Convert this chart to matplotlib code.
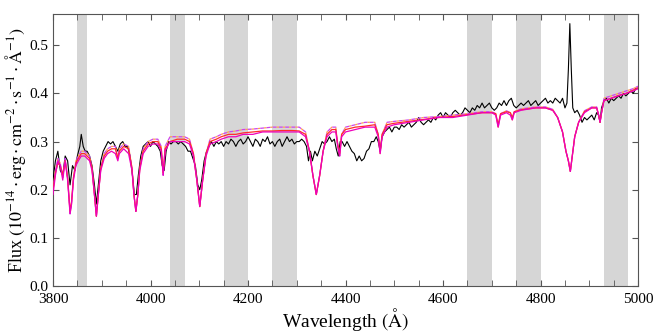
import numpy as np
import matplotlib
matplotlib.use("Agg")
import matplotlib.pyplot as plt
from matplotlib.ticker import MultipleLocator

plt.rcParams['font.family'] = ['Liberation Serif', 'DejaVu Serif']
plt.rcParams['mathtext.fontset'] = 'stix'

# Observed spectrum (black)
obs_wave = [3800, 3805, 3810, 3815, 3820, 3825, 3830, 3835, 3840, 3845, 3850, 3855, 3858, 3862, 3866,
            3870, 3875, 3880, 3885, 3889, 3893, 3898, 3903, 3908, 3913, 3918, 3923, 3928, 3933, 3938,
            3943, 3948, 3953, 3958, 3963, 3967, 3971, 3975, 3980, 3985, 3990, 3995, 4000, 4005, 4010,
            4015, 4020, 4024, 4028, 4032, 4037, 4042, 4047, 4052, 4057, 4062, 4067, 4072, 4077, 4082,
            4087, 4092, 4097, 4101, 4105, 4110, 4115, 4120, 4125, 4130, 4135, 4140, 4145, 4150, 4155,
            4160, 4165, 4170, 4175, 4180, 4185, 4190, 4195, 4200, 4205, 4210, 4215, 4220, 4225, 4230,
            4235, 4240, 4245, 4250, 4255, 4260, 4265, 4270, 4275, 4280, 4285, 4290, 4295, 4300, 4305,
            4310, 4315, 4320, 4324, 4328, 4332, 4337, 4342, 4347, 4352, 4357, 4362, 4367, 4372, 4377,
            4381, 4385, 4389, 4393, 4398, 4403, 4408, 4413, 4418, 4423, 4428, 4433, 4438, 4443, 4448,
            4453, 4458, 4463, 4467, 4471, 4475, 4480, 4485, 4490, 4495, 4500, 4505, 4510, 4515, 4520,
            4525, 4530, 4535, 4540, 4545, 4550, 4555, 4560, 4565, 4570, 4575, 4580, 4585, 4590, 4595,
            4600, 4605, 4610, 4615, 4620, 4625, 4630, 4635, 4640, 4645, 4650, 4655, 4660, 4665, 4670,
            4675, 4680, 4685, 4690, 4695, 4700, 4705, 4710, 4715, 4720, 4725, 4730, 4735, 4740, 4745,
            4750, 4755, 4760, 4765, 4770, 4775, 4780, 4785, 4790, 4795, 4800, 4805, 4810, 4815, 4820,
            4825, 4830, 4835, 4840, 4845, 4850, 4854, 4857, 4860, 4863, 4866, 4870, 4875, 4880, 4885,
            4890, 4895, 4900, 4905, 4910, 4915, 4919, 4922, 4925, 4930, 4935, 4940, 4945, 4950, 4955,
            4960, 4965, 4970, 4975, 4980, 4985, 4990, 4995, 5000]
obs_flux = [0.22, 0.26, 0.28, 0.24, 0.23, 0.27, 0.26, 0.21, 0.25, 0.24, 0.27, 0.29, 0.315, 0.29, 0.28,
            0.28, 0.27, 0.25, 0.21, 0.17, 0.21, 0.26, 0.28, 0.29, 0.30, 0.295, 0.30, 0.29, 0.28, 0.295,
            0.30, 0.29, 0.29, 0.27, 0.23, 0.19, 0.19, 0.23, 0.27, 0.29, 0.295, 0.30, 0.29, 0.30, 0.295,
            0.29, 0.28, 0.25, 0.24, 0.28, 0.30, 0.295, 0.30, 0.30, 0.295, 0.30, 0.295, 0.29, 0.28, 0.28,
            0.265, 0.25, 0.21, 0.20, 0.22, 0.26, 0.28, 0.29, 0.30, 0.29, 0.30, 0.295, 0.30, 0.29, 0.30,
            0.295, 0.305, 0.30, 0.29, 0.30, 0.305, 0.295, 0.30, 0.31, 0.30, 0.29, 0.305, 0.30, 0.29, 0.305,
            0.30, 0.31, 0.295, 0.30, 0.29, 0.30, 0.305, 0.29, 0.30, 0.31, 0.30, 0.305, 0.295, 0.30, 0.30,
            0.305, 0.30, 0.29, 0.26, 0.28, 0.26, 0.28, 0.27, 0.285, 0.30, 0.295, 0.30, 0.31, 0.30, 0.305,
            0.285, 0.27, 0.30, 0.30, 0.29, 0.30, 0.29, 0.28, 0.275, 0.26, 0.27, 0.26, 0.265, 0.28, 0.285,
            0.30, 0.30, 0.31, 0.30, 0.28, 0.31, 0.32, 0.325, 0.33, 0.32, 0.33, 0.33, 0.325, 0.335, 0.33,
            0.335, 0.34, 0.33, 0.335, 0.34, 0.35, 0.34, 0.335, 0.34, 0.345, 0.34, 0.35, 0.345, 0.355, 0.36,
            0.35, 0.36, 0.355, 0.35, 0.36, 0.365, 0.36, 0.355, 0.36, 0.37, 0.365, 0.36, 0.37, 0.365, 0.375,
            0.37, 0.38, 0.37, 0.375, 0.38, 0.37, 0.365, 0.37, 0.38, 0.375, 0.385, 0.375, 0.385, 0.39, 0.375,
            0.37, 0.375, 0.38, 0.375, 0.38, 0.385, 0.375, 0.38, 0.385, 0.375, 0.38, 0.385, 0.39, 0.38, 0.385,
            0.38, 0.39, 0.385, 0.38, 0.39, 0.37, 0.38, 0.45, 0.545, 0.45, 0.37, 0.36, 0.365, 0.355, 0.34,
            0.35, 0.345, 0.35, 0.355, 0.345, 0.36, 0.355, 0.34, 0.37, 0.385, 0.39, 0.38, 0.39, 0.385, 0.39,
            0.395, 0.39, 0.40, 0.395, 0.40, 0.405, 0.40, 0.41, 0.41]

# Model spectra
mod_wave = [3800, 3805, 3810, 3815, 3820, 3825, 3830, 3835, 3838, 3842, 3847, 3852, 3858, 3865, 3870,
            3875, 3880, 3885, 3889, 3893, 3898, 3905, 3912, 3920, 3928, 3933, 3936, 3945, 3955, 3962,
            3966, 3970, 3974, 3978, 3985, 3995, 4005, 4015, 4022, 4026, 4030, 4040, 4055, 4070, 4080,
            4088, 4095, 4101, 4107, 4114, 4122, 4135, 4145, 4160, 4175, 4190, 4210, 4230, 4250, 4270,
            4290, 4305, 4318, 4326, 4333, 4340, 4347, 4354, 4362, 4372, 4380, 4384, 4388, 4392, 4400,
            4420, 4440, 4460, 4467, 4471, 4475, 4485, 4500, 4530, 4560, 4590, 4620, 4650, 4680, 4700,
            4708, 4713, 4718, 4730, 4738, 4742, 4746, 4760, 4790, 4810, 4825, 4835, 4845, 4852, 4857,
            4861, 4865, 4870, 4878, 4890, 4905, 4915, 4919, 4922, 4925, 4930, 4945, 4960, 4975, 4990, 5000]
mod_magenta = [0.19, 0.23, 0.26, 0.25, 0.22, 0.26, 0.22, 0.15, 0.17, 0.22, 0.25, 0.26, 0.27, 0.27, 0.265,
               0.26, 0.24, 0.19, 0.145, 0.19, 0.24, 0.265, 0.275, 0.28, 0.275, 0.26, 0.275, 0.285, 0.275, 0.24,
               0.19, 0.155, 0.19, 0.24, 0.275, 0.29, 0.295, 0.295, 0.28, 0.23, 0.28, 0.30, 0.30, 0.30, 0.295,
               0.27, 0.22, 0.165, 0.22, 0.27, 0.295, 0.30, 0.305, 0.31, 0.31, 0.315, 0.315, 0.32, 0.32, 0.32,
               0.32, 0.32, 0.31, 0.28, 0.23, 0.19, 0.23, 0.28, 0.31, 0.32, 0.32, 0.29, 0.27, 0.31, 0.32,
               0.325, 0.33, 0.33, 0.31, 0.275, 0.31, 0.33, 0.335, 0.34, 0.345, 0.35, 0.35, 0.355, 0.36, 0.36,
               0.355, 0.33, 0.355, 0.36, 0.355, 0.345, 0.36, 0.365, 0.37, 0.37, 0.365, 0.35, 0.32, 0.28, 0.26,
               0.238, 0.27, 0.31, 0.34, 0.36, 0.37, 0.37, 0.355, 0.34, 0.36, 0.385, 0.39, 0.395, 0.40, 0.405, 0.41]
mod_red = [0.20, 0.235, 0.255, 0.25, 0.23, 0.26, 0.225, 0.155, 0.175, 0.225, 0.255, 0.265, 0.275, 0.275, 0.27,
           0.265, 0.245, 0.19, 0.145, 0.19, 0.245, 0.27, 0.28, 0.285, 0.285, 0.265, 0.28, 0.29, 0.285, 0.245,
           0.19, 0.155, 0.19, 0.245, 0.28, 0.295, 0.30, 0.30, 0.285, 0.235, 0.285, 0.30, 0.305, 0.305, 0.30,
           0.275, 0.22, 0.165, 0.22, 0.275, 0.30, 0.305, 0.31, 0.315, 0.315, 0.318, 0.32, 0.322, 0.322, 0.323,
           0.323, 0.322, 0.315, 0.28, 0.23, 0.19, 0.23, 0.28, 0.315, 0.325, 0.325, 0.295, 0.275, 0.315, 0.325,
           0.33, 0.332, 0.335, 0.315, 0.28, 0.315, 0.335, 0.338, 0.342, 0.346, 0.35, 0.352, 0.356, 0.36, 0.36,
           0.358, 0.335, 0.358, 0.362, 0.36, 0.35, 0.362, 0.366, 0.37, 0.37, 0.365, 0.35, 0.32, 0.28, 0.26,
           0.238, 0.27, 0.31, 0.34, 0.362, 0.37, 0.37, 0.355, 0.34, 0.36, 0.385, 0.39, 0.396, 0.40, 0.407, 0.412]
mod_dashed = [0.20, 0.24, 0.265, 0.255, 0.225, 0.265, 0.225, 0.15, 0.17, 0.225, 0.26, 0.27, 0.28, 0.28, 0.275,
              0.27, 0.245, 0.19, 0.145, 0.19, 0.245, 0.275, 0.285, 0.29, 0.29, 0.265, 0.285, 0.295, 0.29, 0.245,
              0.19, 0.155, 0.19, 0.245, 0.285, 0.30, 0.305, 0.305, 0.29, 0.23, 0.29, 0.31, 0.31, 0.31, 0.305,
              0.275, 0.22, 0.165, 0.22, 0.275, 0.305, 0.31, 0.315, 0.32, 0.322, 0.325, 0.326, 0.328, 0.33, 0.33,
              0.33, 0.33, 0.32, 0.28, 0.23, 0.19, 0.23, 0.28, 0.32, 0.33, 0.33, 0.29, 0.27, 0.315, 0.33,
              0.335, 0.34, 0.34, 0.315, 0.275, 0.315, 0.34, 0.342, 0.345, 0.35, 0.352, 0.355, 0.358, 0.362, 0.362,
              0.358, 0.33, 0.358, 0.364, 0.36, 0.345, 0.362, 0.368, 0.372, 0.372, 0.367, 0.35, 0.32, 0.28, 0.26,
              0.238, 0.27, 0.31, 0.34, 0.364, 0.372, 0.372, 0.355, 0.34, 0.36, 0.39, 0.395, 0.40, 0.405, 0.41, 0.415]

# Excluded (shaded) wavelength windows
band_lo = [3850, 4040, 4150, 4250, 4650, 4750, 4930]
band_hi = [3870, 4070, 4200, 4300, 4700, 4800, 4980]

fig = plt.figure(figsize=(6.64, 3.32), dpi=100)
ax = fig.add_axes([0.0798, 0.1386, 0.8812, 0.8192])

for lo, hi in zip(band_lo, band_hi):
    ax.axvspan(lo, hi, color='#d6d6d6', lw=0, zorder=0)

ax.plot(obs_wave, obs_flux, color='black', lw=0.8, zorder=3)
ax.plot(mod_wave, mod_dashed, color='#cc44ee', lw=0.9, ls=(0, (3, 2)), gapcolor='#ffa050', zorder=4)
ax.plot(mod_wave, mod_red, color='#ff2a2a', lw=0.9, zorder=5)
ax.plot(mod_wave, mod_magenta, color='#ee00bb', lw=0.9, zorder=6)

ax.set_xlim(3800, 5000)
ax.set_ylim(0, 0.565)
ax.xaxis.set_major_locator(MultipleLocator(200))
ax.xaxis.set_minor_locator(MultipleLocator(50))
ax.yaxis.set_major_locator(MultipleLocator(0.1))
ax.tick_params(which='both', direction='in', top=True, right=True, labelsize=11,
               color='#555555', length=4)
ax.tick_params(axis='x', pad=5)
for s in ax.spines.values():
    s.set_color('#555555')
ax.set_xlabel(r'Wavelength $(\mathrm{\AA})$', fontsize=14, labelpad=0)
ax.set_ylabel(r'Flux $(10^{-14}\cdot\mathrm{erg}\cdot\mathrm{cm}^{-2}\cdot\mathrm{s}^{-1}\cdot\mathrm{\AA}^{-1})$',
              fontsize=13, labelpad=1)

fig.savefig('out.png', dpi=100)
